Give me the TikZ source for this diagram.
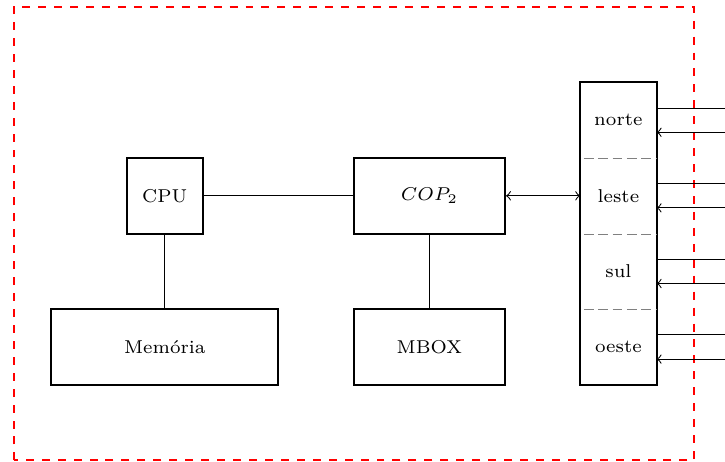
\documentclass[tikz,border=0pt]{standalone}
\usepackage{amsmath, amssymb}
\usepackage{xcolor}
\usepackage{tikz}
\usetikzlibrary{calc}

\begin{document}
\begin{tikzpicture}[
    bloco/.style={draw, thick, minimum height=1cm, inner sep=0pt, font=\scriptsize},
    porta/.style={minimum width=1cm, minimum height=1cm, inner sep=0pt, font=\scriptsize}]

    \useasboundingbox (-2.18,-3.51) rectangle (7.41,2.59);

    \draw[red, thick, dashed] (-2,-3.5) rectangle (7,2.5);

    \node[bloco, minimum width=1cm] (cpu) at (0,0) {CPU};
    \node[bloco, minimum width=3cm] (mem) at (0,-2) {Memória};
    \node[bloco, minimum width=2cm] (cop) at (3.5,0) {$COP_2$};
    \node[bloco, minimum width=2cm] (mbox) at (3.5,-2) {MBOX};

    \node[porta] (norte) at (6,1) {norte};
    \node[porta] (leste) at (6,0) {leste};
    \node[porta] (sul) at (6,-1) {sul};
    \node[porta] (oeste) at (6,-2) {oeste};

    \draw[thick] (norte.north west) rectangle (oeste.south east);
    \foreach \p in {norte,leste,sul}
        \draw[gray, dash pattern=on 3.7pt off 1.7pt] ($(\p.south west)+(0.05,0)$) -- (\p.south east);

    \draw (cpu) -- (cop);
    \draw (cpu) -- (mem);
    \draw (cop) -- (mbox);
    \draw[<->] (cop) -- (leste);

    \foreach \p in {norte,leste,sul,oeste} {
        \draw ($(\p.east)+(0,0.16)$) -- ++(1.1,0);
        \draw[<-] ($(\p.east)+(0,-0.16)$) -- ++(1.1,0);
    }

\end{tikzpicture}
\end{document}
